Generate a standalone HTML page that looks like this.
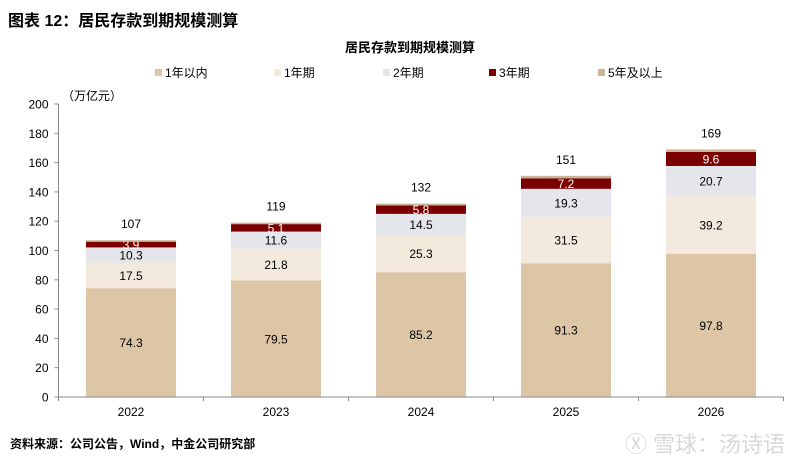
<!DOCTYPE html>
<html><head><meta charset="utf-8"><style>
body{margin:0;background:#fff;}
svg{display:block;font-family:"Liberation Sans","Noto Sans CJK SC",sans-serif;}
</style></head><body>
<svg id="chart" width="800" height="471" viewBox="0 0 800 471">
<text x="8" y="26" font-size="16" font-weight="bold" fill="#000">图表 12：居民存款到期规模测算</text>
<text x="410" y="52" font-size="13" font-weight="bold" text-anchor="middle" fill="#000">居民存款到期规模测算</text>
<g id="legend"></g>
<text x="62" y="100" font-size="12" fill="#000">（万亿元）</text>
<g id="plot"></g>
<text x="10" y="448" font-size="12" font-weight="bold" fill="#000">资料来源：公司公告，Wind，中金公司研究部</text>
<text x="785" y="452" font-size="22" text-anchor="end" fill="#d8d8d8">Ⓧ 雪球：汤诗语</text>
</svg>
<script>
const categories=["2022","2023","2024","2025","2026"];
const seriesNames=["1年以内","1年期","2年期","3年期","5年及以上"];
const within1y=[74.3,79.5,85.2,91.3,97.8];
const oneYear=[17.5,21.8,25.3,31.5,39.2];
const twoYear=[10.3,11.6,14.5,19.3,20.7];
const threeYear=[3.9,5.1,5.8,7.2,9.6];
const fivePlus=[1.0,1.0,1.2,1.7,1.7];
const totals=[107,119,132,151,169];
const yTicks=[0,20,40,60,80,100,120,140,160,180,200];

const NS="http://www.w3.org/2000/svg";
const colors=["#dcc6a6","#f3e9dd","#e5e6eb","#7b0000","#c9b597"];
const textColors=["#000","#000","#000","#fff","#000"];
const series=[within1y,oneYear,twoYear,threeYear,fivePlus];
const x0=58.5,x1=783.5,yBase=397,yTop=104,yMax=200;
const band=(x1-x0)/categories.length,barW=90;
const y=v=>yBase-(v/yMax)*(yBase-yTop);
const xc=i=>x0+band*(i+0.5);
function el(t,a,p){const e=document.createElementNS(NS,t);for(const k in a)e.setAttribute(k,a[k]);p.appendChild(e);return e;}
const plot=document.getElementById('plot');
categories.forEach((c,i)=>{
  let acc=0;
  series.forEach((s,k)=>{
    const v=s[i];
    const r=el('rect',{x:xc(i)-barW/2,y:y(acc+v),width:barW,height:y(acc)-y(acc+v),fill:colors[k]},plot);
    
    
    if(k<4){
      const t=el('text',{x:xc(i),y:(y(acc)+y(acc+v))/2+4.5,'font-size':12,'text-anchor':'middle',fill:textColors[k]},plot);
      t.textContent=v.toFixed(1);
      
      
    }
    acc+=v;
  });
  const t=el('text',{x:xc(i),y:y(totals[i])-12,'font-size':12,'text-anchor':'middle',fill:'#000'},plot);
  t.textContent=totals[i];
  
  
  const xl=el('text',{x:xc(i),y:416,'font-size':12,'text-anchor':'middle',fill:'#000'},plot);
  xl.textContent=c;
  
  
});
const ya=el('line',{x1:x0,y1:yTop,x2:x0,y2:yBase,stroke:'#888','stroke-width':1},plot);


const xa=el('line',{x1:x0,y1:yBase,x2:x1,y2:yBase,stroke:'#888','stroke-width':1},plot);


yTicks.forEach(v=>{
  el('line',{x1:x0-4,y1:y(v),x2:x0,y2:y(v),stroke:'#888'},plot);
  const t=el('text',{x:x0-10,y:y(v)+4.5,'font-size':12,'text-anchor':'end',fill:'#000'},plot);
  t.textContent=v;
  
  
});
for(let i=0;i<=categories.length;i++){el('line',{x1:x0+band*i,y1:yBase,x2:x0+band*i,y2:yBase+4,stroke:'#888'},plot);}
const lg=document.getElementById('legend');
const lx=[155,274,383,489,598];
seriesNames.forEach((n,k)=>{
  el('rect',{x:lx[k],y:69,width:7,height:7,fill:colors[k]},lg);
  const t=el('text',{x:lx[k]+10,y:77,'font-size':12,fill:'#000'},lg);
  t.textContent=n;
  
  
});
</script>
</body></html>
